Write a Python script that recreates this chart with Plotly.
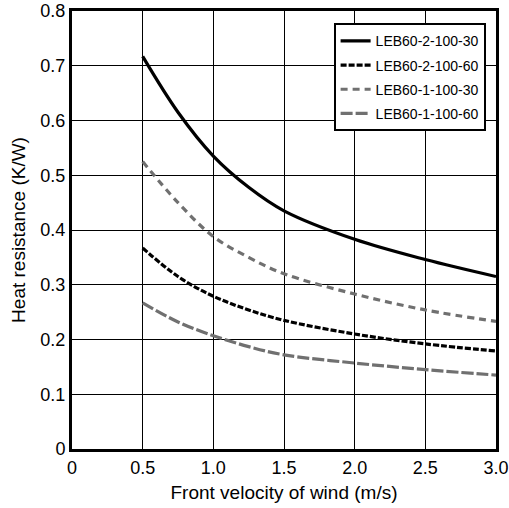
import plotly.graph_objects as go

velocity = [0.5, 0.75, 1.0, 1.25, 1.5, 2.0, 2.5, 3.0]
leb60_2_100_30 = [0.717, 0.615, 0.535, 0.478, 0.435, 0.383, 0.346, 0.315]
leb60_2_100_60 = [0.367, 0.315, 0.279, 0.254, 0.235, 0.210, 0.192, 0.179]
leb60_1_100_30 = [0.525, 0.450, 0.388, 0.350, 0.320, 0.283, 0.254, 0.233]
leb60_1_100_60 = [0.267, 0.232, 0.207, 0.187, 0.172, 0.157, 0.145, 0.135]

x_ticks = [0, 0.5, 1.0, 1.5, 2.0, 2.5, 3.0]
x_tick_labels = ["0", "0.5", "1.0", "1.5", "2.0", "2.5", "3.0"]
y_ticks = [0, 0.1, 0.2, 0.3, 0.4, 0.5, 0.6, 0.7, 0.8]
y_tick_labels = ["0", "0.1", "0.2", "0.3", "0.4", "0.5", "0.6", "0.7", "0.8"]

GREY = "#707070"
fig = go.Figure()
fig.add_trace(go.Scatter(x=velocity, y=leb60_2_100_30, name="LEB60-2-100-30", mode="lines",
                         legendgroup="a",
                         line=dict(color="black", width=3.2, shape="spline")))
fig.add_trace(go.Scatter(x=velocity, y=leb60_2_100_60, name="LEB60-2-100-60", mode="lines",
                         legendgroup="b",
                         line=dict(color="black", width=3.2, shape="spline", dash="6px,2px")))
fig.add_trace(go.Scatter(x=velocity, y=leb60_1_100_30, name="LEB60-1-100-30", mode="lines",
                         legendgroup="c",
                         line=dict(color=GREY, width=3.2, shape="spline", dash="7px,5px")))
fig.add_trace(go.Scatter(x=velocity, y=leb60_1_100_60, name="LEB60-1-100-60", mode="lines",
                         legendgroup="d",
                         line=dict(color=GREY, width=3.2, shape="spline", dash="12px,3px")))

font = "Liberation Sans, Arial, sans-serif"
fig.update_layout(
    width=509, height=508,
    margin=dict(l=72, r=13, t=11, b=59, autoexpand=False),
    paper_bgcolor="white", plot_bgcolor="white",
    font=dict(family=font, size=18, color="black"),
    showlegend=True,
    legend=dict(x=0.617, y=0.972, xanchor="left", yanchor="top",
                bgcolor="white", bordercolor="black", borderwidth=2,
                font=dict(size=14, family=font), itemwidth=30,
                traceorder="grouped", tracegroupgap=3),
    xaxis=dict(range=[0, 3.0], tickvals=x_ticks, ticktext=x_tick_labels,
               showgrid=True, gridcolor="black", gridwidth=1.2,
               showline=True, linecolor="black", linewidth=3, mirror=True,
               ticks="", zeroline=False, automargin=False,
               title=dict(text="Front velocity of wind (m/s)", standoff=10, font=dict(size=19))),
    yaxis=dict(range=[0, 0.8], tickvals=y_ticks, ticktext=y_tick_labels,
               showgrid=True, gridcolor="black", gridwidth=1.2,
               showline=True, linecolor="black", linewidth=3, mirror=True,
               ticks="", zeroline=False, automargin=False,
               title=dict(text="Heat resistance (K/W)", standoff=10, font=dict(size=19))),
)
fig.write_html("out.html", config={"displayModeBar": False},
               post_script="document.body.style.margin='0';")
